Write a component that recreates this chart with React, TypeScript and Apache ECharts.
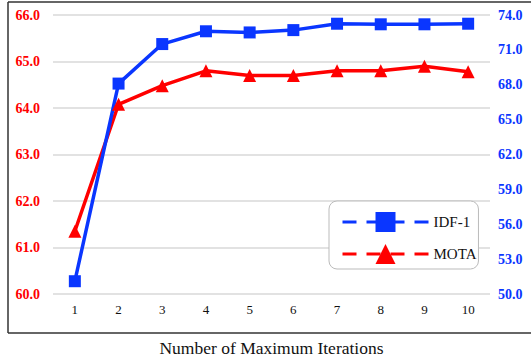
import React, { useEffect, useRef } from "react";
import * as echarts from "echarts";

const categories = ["1", "2", "3", "4", "5", "6", "7", "8", "9", "10"];
const motaValues = [61.35, 64.08, 64.48, 64.8, 64.7, 64.7, 64.8, 64.8, 64.9, 64.78];
const idfValues = [51.1, 68.1, 71.5, 72.6, 72.5, 72.7, 73.25, 73.2, 73.2, 73.25];
const xTitle = "Number of Maximum Iterations";

const BLUE = "#0a36ff";
const RED = "#ff0000";
const FONT = "Liberation Serif";

export default function App() {
  const ref = useRef<HTMLDivElement>(null);
  useEffect(() => {
    if (!ref.current) return;
    const chart = echarts.init(ref.current, undefined, { renderer: "svg" });
    chart.setOption({
      animation: false,
      textStyle: { fontFamily: FONT },
      grid: { left: 53, right: 41, top: 15, bottom: 59, containLabel: false },
      xAxis: {
        type: "category",
        data: categories,
        boundaryGap: true,
        axisLine: { show: false },
        axisTick: { show: false },
        axisLabel: { color: "#111", fontSize: 13, fontFamily: FONT, margin: 9 },
        name: xTitle,
        nameLocation: "middle",
        nameGap: 45,
        nameTextStyle: { color: "#111", fontSize: 17.5, fontFamily: FONT },
      },
      yAxis: [
        {
          type: "value",
          min: 60,
          max: 66,
          interval: 1,
          position: "left",
          axisLine: { show: false },
          axisTick: { show: false },
          axisLabel: {
            color: RED,
            fontWeight: "bold",
            fontSize: 14,
            fontFamily: FONT,
            margin: 13,
            formatter: (v: number) => v.toFixed(1),
          },
          splitLine: { lineStyle: { color: "#d9d9d9", width: 1.5 } },
        },
        {
          type: "value",
          min: 50,
          max: 74,
          interval: 3,
          position: "right",
          axisLine: { show: false },
          axisTick: { show: false },
          axisLabel: {
            color: BLUE,
            fontWeight: "bold",
            fontSize: 14,
            fontFamily: FONT,
            margin: 8,
            formatter: (v: number) => v.toFixed(1),
          },
          splitLine: { show: false },
        },
      ],
      legend: {
        orient: "vertical",
        left: 329,
        top: 201,
        data: ["IDF-1", "MOTA"],
        backgroundColor: "#fff",
        borderColor: "#bbb",
        borderWidth: 1,
        borderRadius: 8,
        padding: [11, 2, 5, 12],
        itemGap: 12,
        itemWidth: 86,
        itemHeight: 25,
        itemTextGap: 6,
        lineStyle: { type: [14, 10], width: 3 },
        textStyle: { color: "#111", fontSize: 15, fontFamily: FONT },
      },
      series: [
        {
          name: "MOTA",
          type: "line",
          yAxisIndex: 0,
          data: motaValues,
          symbol: "triangle",
          symbolSize: 13,
          itemStyle: { color: RED },
          lineStyle: { color: RED, width: 3.5 },
        },
        {
          name: "IDF-1",
          type: "line",
          yAxisIndex: 1,
          data: idfValues,
          symbol: "rect",
          symbolSize: 12,
          itemStyle: { color: BLUE },
          lineStyle: { color: BLUE, width: 3.5 },
        },
      ],
      graphic: [
        { type: "line", shape: { x1: 8, y1: 2, x2: 531, y2: 2 }, style: { stroke: "#333", lineWidth: 1.5 } },
        { type: "line", shape: { x1: 8, y1: 2, x2: 8, y2: 333 }, style: { stroke: "#333", lineWidth: 1.5 } },
        { type: "line", shape: { x1: 8, y1: 333, x2: 531, y2: 333 }, style: { stroke: "#333", lineWidth: 1.5 } },
      ],
    });
    return () => chart.dispose();
  }, []);
  return (
    <div
      ref={ref}
      style={{ position: "fixed", left: 0, top: 0, width: 531, height: 362, background: "#fff" }}
    />
  );
}
